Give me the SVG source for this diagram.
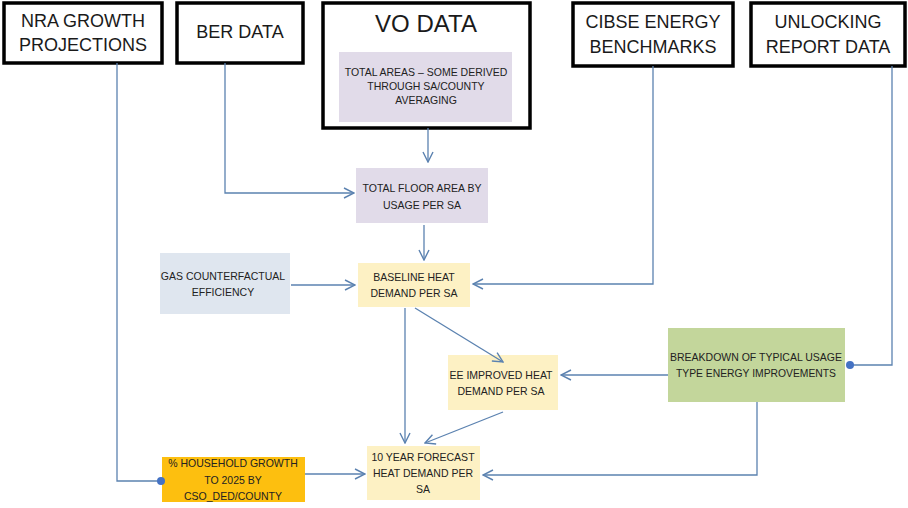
<svg xmlns="http://www.w3.org/2000/svg" width="908" height="508" viewBox="0 0 908 508">
  <defs>
    <marker id="arr" viewBox="0 0 12 12" refX="11" refY="6" markerWidth="12" markerHeight="12" markerUnits="userSpaceOnUse" orient="auto">
      <path d="M1,1 L11,6 L1,11" fill="none" stroke="#5b82b0" stroke-width="1.4"/>
    </marker>
    <style>
      .src { fill: #ffffff; stroke: #000000; stroke-width: 3.5; }
      .big { font-family: "Liberation Sans", Arial, sans-serif; font-size: 18px; fill: #1a1a1a; text-anchor: middle; }
      .sm { font-family: "Liberation Sans", Arial, sans-serif; font-size: 10.5px; fill: #222222; text-anchor: middle; }
      .purple { fill: #e1dbe9; }
      .yellow { fill: #fdf1c4; }
      .grey { fill: #dfe6ef; }
      .green { fill: #c3d69b; }
      .orange { fill: #fdbf0f; }
      .ln { fill: none; stroke: #5b82b0; stroke-width: 1.3; }
      .dot { fill: #4472c4; }
    </style>
  </defs>

  <rect width="908" height="508" fill="#ffffff"/>

  <!-- source data boxes -->
  <g id="nra">
    <rect class="src" x="4" y="3" width="158" height="60"/>
    <text class="big" x="83" y="27">NRA GROWTH</text>
    <text class="big" x="83" y="51">PROJECTIONS</text>
  </g>
  <g id="ber">
    <rect class="src" x="177" y="3" width="126" height="60"/>
    <text class="big" x="240" y="38">BER DATA</text>
  </g>
  <g id="vo">
    <rect class="src" x="323" y="3" width="207" height="125" stroke-width="4"/>
    <text class="big" x="426" y="32" style="font-size:24px">VO DATA</text>
    <rect class="purple" x="339" y="52" width="173" height="70"/>
    <text class="sm" x="426" y="76">TOTAL AREAS – SOME DERIVED</text>
    <text class="sm" x="426" y="90">THROUGH SA/COUNTY</text>
    <text class="sm" x="426" y="104">AVERAGING</text>
  </g>
  <g id="cibse">
    <rect class="src" x="573" y="3" width="160" height="63"/>
    <text class="big" x="653" y="28">CIBSE ENERGY</text>
    <text class="big" x="653" y="53">BENCHMARKS</text>
  </g>
  <g id="unlocking">
    <rect class="src" x="751" y="3" width="154" height="63"/>
    <text class="big" x="828" y="28">UNLOCKING</text>
    <text class="big" x="828" y="53">REPORT DATA</text>
  </g>

  <!-- process boxes -->
  <g id="floor-area">
    <rect class="purple" x="356" y="168" width="132" height="55"/>
    <text class="sm" x="422" y="192">TOTAL FLOOR AREA BY</text>
    <text class="sm" x="422" y="209">USAGE PER SA</text>
  </g>
  <g id="gas">
    <rect class="grey" x="160" y="253" width="130" height="61"/>
    <text class="sm" x="223" y="280">GAS COUNTERFACTUAL</text>
    <text class="sm" x="223" y="296">EFFICIENCY</text>
  </g>
  <g id="baseline">
    <rect class="yellow" x="358" y="263" width="112" height="44"/>
    <text class="sm" x="414" y="281">BASELINE HEAT</text>
    <text class="sm" x="414" y="297">DEMAND PER SA</text>
  </g>
  <g id="ee-improved">
    <rect class="yellow" x="448" y="355" width="110" height="55"/>
    <text class="sm" x="501" y="379">EE IMPROVED HEAT</text>
    <text class="sm" x="501" y="395">DEMAND PER SA</text>
  </g>
  <g id="breakdown">
    <rect class="green" x="668" y="328" width="177" height="74"/>
    <text class="sm" x="756" y="361" textLength="172" lengthAdjust="spacingAndGlyphs">BREAKDOWN OF TYPICAL USAGE</text>
    <text class="sm" x="756" y="377" textLength="160" lengthAdjust="spacingAndGlyphs">TYPE ENERGY IMPROVEMENTS</text>
  </g>
  <g id="household">
    <rect class="orange" x="162" y="457" width="143" height="45"/>
    <text class="sm" x="233" y="467">% HOUSEHOLD GROWTH</text>
    <text class="sm" x="233" y="484">TO 2025 BY</text>
    <text class="sm" x="233" y="500">CSO_DED/COUNTY</text>
  </g>
  <g id="forecast">
    <rect class="yellow" x="367" y="446" width="113" height="54"/>
    <text class="sm" x="423" y="461">10 YEAR FORECAST</text>
    <text class="sm" x="423" y="477">HEAT DEMAND PER</text>
    <text class="sm" x="423" y="493">SA</text>
  </g>

  <!-- connectors -->
  <g id="connectors">
    <path class="ln" d="M117,63 V481 H160"/>
    <circle class="dot" cx="161" cy="481" r="4"/>
    <path class="ln" d="M225,63 V193 H354" marker-end="url(#arr)"/>
    <path class="ln" d="M428,128 V162" marker-end="url(#arr)"/>
    <path class="ln" d="M424,225 V260" marker-end="url(#arr)"/>
    <path class="ln" d="M291,285 H355" marker-end="url(#arr)"/>
    <path class="ln" d="M653,66 V284 H473" marker-end="url(#arr)"/>
    <path class="ln" d="M415,308 L503,362" marker-end="url(#arr)"/>
    <path class="ln" d="M892,66 V365 H851"/>
    <circle class="dot" cx="850" cy="365" r="4"/>
    <path class="ln" d="M668,375 H561" marker-end="url(#arr)"/>
    <path class="ln" d="M405,308 V443" marker-end="url(#arr)"/>
    <path class="ln" d="M503,412 L425,443" marker-end="url(#arr)"/>
    <path class="ln" d="M305,474 H365" marker-end="url(#arr)"/>
    <path class="ln" d="M757,402 V475 H483" marker-end="url(#arr)"/>
  </g>
</svg>
